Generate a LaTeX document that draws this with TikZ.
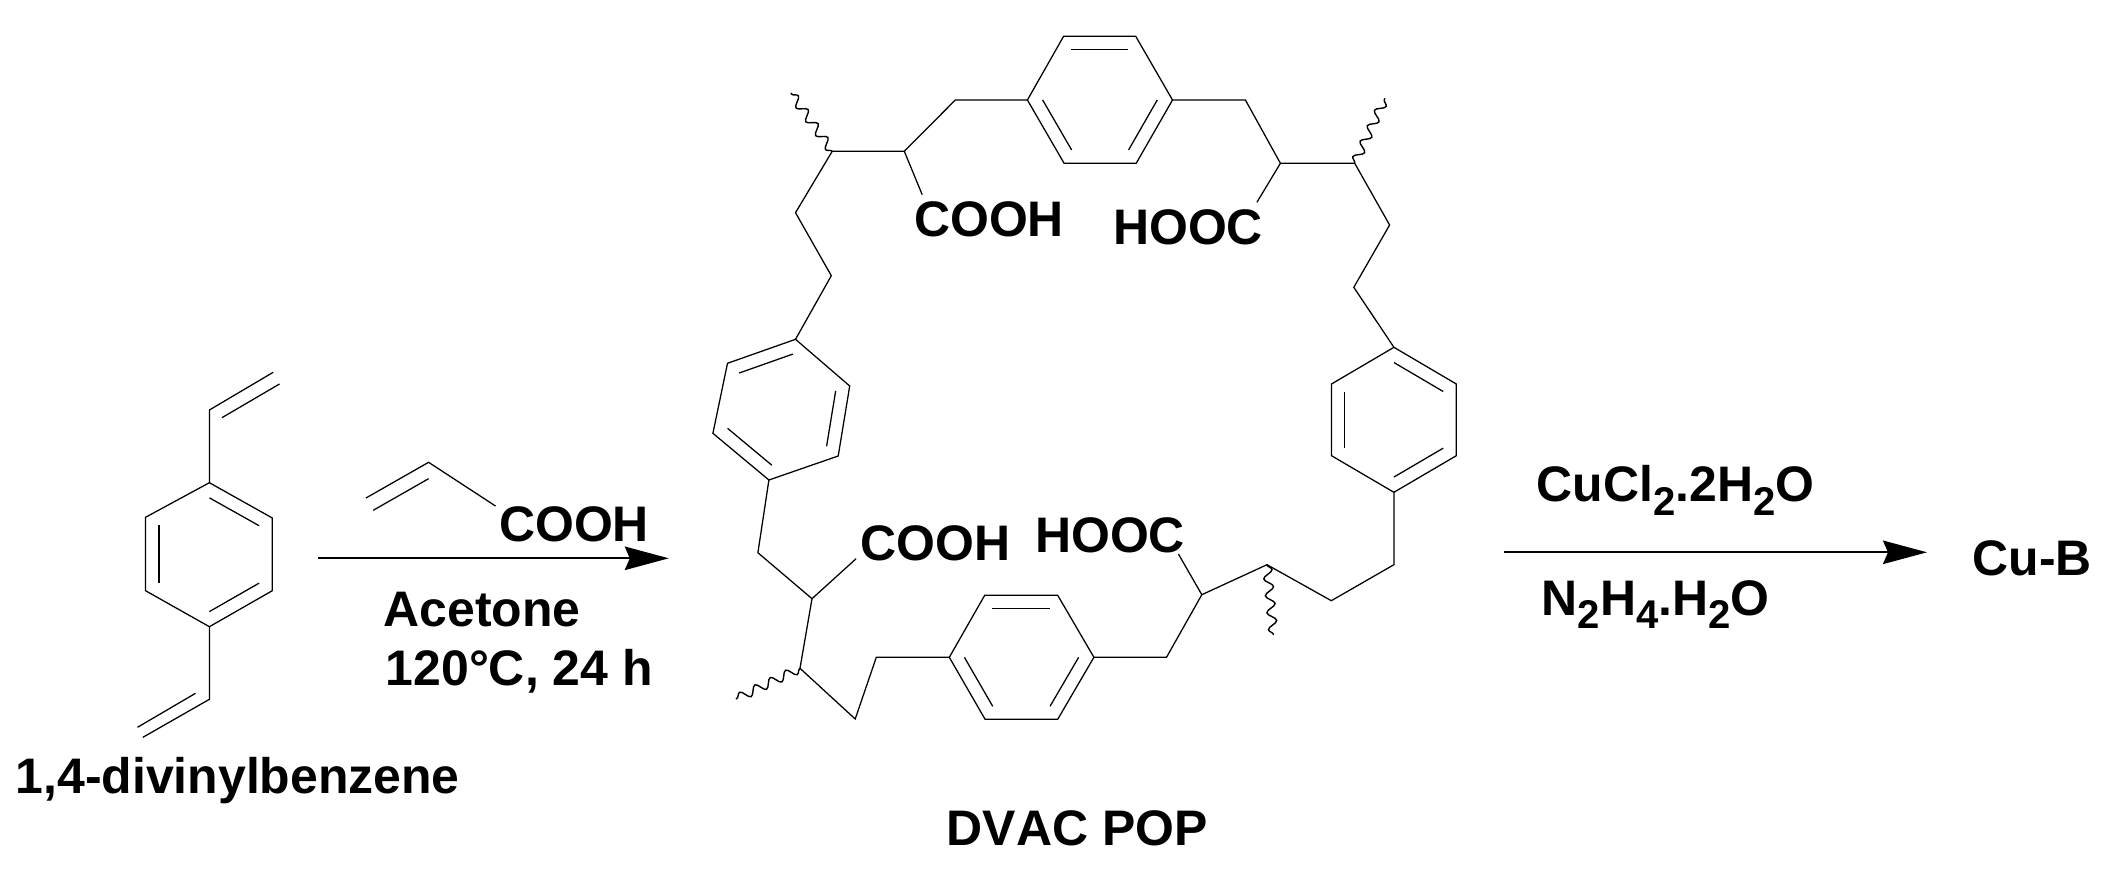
\documentclass[tikz,border=0pt]{standalone}
\usepackage{fontspec}
\setmainfont[Kerning=Off]{Liberation Sans}
\usepackage{tikz}
\usetikzlibrary{arrows.meta, calc, decorations.pathmorphing}

\tikzset{
	bond/.style={line width=.36pt, line join=miter},
	wavy/.style={line width=.4pt, decorate, decoration={snake, amplitude=.045cm, segment length=.17cm}},
	rxn/.style={line width=.5pt, -{Stealth[length=.44cm, width=.235cm, inset=.05cm]}},
	lbl/.style={anchor=base west, inner sep=0pt, font=\bfseries\fontsize{14.2pt}{17pt}\selectfont}
}
% lowered index of the formulas
\newcommand{\lowidx}[1]{\raisebox{-.27em}{\fontsize{11.4pt}{14pt}\selectfont #1}}
% ring with its three inner bonds
\newcommand{\benzring}[6]{
	\draw[bond] (#1) -- (#2) -- (#3) -- (#4) -- (#5) -- (#6) -- cycle;
	\coordinate (rc) at ($(#1)!.5!(#4)$);
	\draw[bond] ($(#1)!.21!(rc)$) -- ($(#2)!.21!(rc)$);
	\draw[bond] ($(#3)!.21!(rc)$) -- ($(#4)!.21!(rc)$);
	\draw[bond] ($(#5)!.21!(rc)$) -- ($(#6)!.21!(rc)$);
}

\begin{document}
\begin{tikzpicture}[x=.01cm, y=-.01cm]
	\useasboundingbox (0,0) rectangle (2109,870);

	% 1,4-divinylbenzene
	\coordinate (dvbtop) at (209.4,482.7);
	\coordinate (dvbbot) at (209.4,626.7);
	\benzring{dvbtop}{272.3,518}{272.3,590.7}{dvbbot}{145.5,590.7}{145.5,517.3}
	\draw[bond] (dvbtop) -- (209.4,410) -- (273.2,372.3);
	\draw[bond] (221.9,417.7) -- (279.5,384);
	\draw[bond] (dvbbot) -- (209.4,699.3) -- (142.9,737.3);
	\draw[bond] (195.5,693.3) -- (137.5,727.3);
	\node (dvbname) at (15,793) [lbl] {1,4-divinylbenzene};

	% acrylic acid over the first arrow
	\node (acooh) at (498.5,541) [lbl] {COOH};
	\draw[bond] (366,498) -- (428.6,462.3) -- (495.5,506);
	\draw[bond] (373.2,510.3) -- (428.6,478.7);
	\coordinate (arrAfrom) at (318,558.3);
	\coordinate (arrAto) at (668.8,558.3);
	\draw[rxn] (arrAfrom) -- (arrAto);
	\node (acetone) at (383,626.7) [lbl] {Acetone};
	\node (cond) at (385,685) [lbl] {120°C, 24 h};

	% upper part of the polymer
	\coordinate (ringTl) at (1027.4,100);
	\coordinate (ringTr) at (1172.5,100);
	\benzring{1063.6,36.3}{1135.7,36.3}{ringTr}{1136.2,163.3}{1064.1,163.3}{ringTl}
	\coordinate (chA) at (904.3,151.3);
	\coordinate (chB) at (832.2,151.3);
	\coordinate (chC) at (1280.4,163.3);
	\coordinate (chD) at (1354.7,163.3);
	\coordinate (ringLt) at (795.5,339.3);
	\coordinate (ringRt) at (1393.9,347.3);
	\draw[bond] (ringTl) -- (955.3,100) -- (chA) -- (chB) -- (795.5,212.7) -- (831.3,275.7) -- (ringLt);
	\draw[bond] (ringTr) -- (1245.4,100) -- (chC) -- (chD) -- (1389.6,225) -- (1353.8,287.3) -- (ringRt);
	\node (coohA) at (913.5,236.7) [lbl] {COOH};
	\node (hoocA) at (1112.5,244.3) [lbl] {HOOC};
	\draw[bond] (chA) -- (922.2,194.7);
	\draw[bond] (chC) -- (1256.9,202.3);
	\draw[wavy] (chB) -- (790.9,93);
	\draw[wavy] (chD) -- (1385,98.3);

	% side rings
	\coordinate (ringLb) at (768.9,480);
	\coordinate (ringRb) at (1393.9,492.3);
	\benzring{727.5,363.3}{ringLt}{849.7,386}{838.2,456}{ringLb}{712.9,433.3}
	\benzring{ringRt}{1456.3,384}{1456.3,455.7}{ringRb}{1331.5,455.7}{1331.5,384}

	% lower part of the polymer
	\coordinate (ringBl) at (949.3,657.3);
	\coordinate (ringBr) at (1093.9,657.3);
	\benzring{984.7,595.3}{1057.7,595.3}{ringBr}{1057.7,719.3}{985.1,719.3}{ringBl}
	\coordinate (chE) at (812,598.7);
	\coordinate (chF) at (800,668.3);
	\coordinate (chG) at (1201.8,594.7);
	\coordinate (chH) at (1267,564.7);
	\draw[bond] (ringLb) -- (757.9,552.7) -- (chE) -- (chF) -- (855.2,719) -- (876.3,657.3) -- (ringBl);
	\draw[bond] (ringBr) -- (1166.5,657.3) -- (chG) -- (chH) -- (1331.3,600.7) -- (1393.9,564.7) -- (ringRb);
	\node (coohB) at (860,560.7) [lbl] {COOH};
	\node (hoocB) at (1034.5,552.7) [lbl] {HOOC};
	\draw[bond] (chE) -- (856.1,558.7);
	\draw[bond] (chG) -- (1178.4,554);
	\draw[wavy] (chF) -- (735.8,699);
	\draw[wavy] (chH) -- (1273.5,635);
	\node (popname) at (946,845.7) [lbl] {DVAC POP};

	% second step
	\coordinate (arrBfrom) at (1504.3,552.3);
	\coordinate (arrBto) at (1927,552.3);
	\draw[rxn] (arrBfrom) -- (arrBto);
	\node (cucl) at (1536,501.7) [lbl] {CuCl\lowidx{2}.2H\lowidx{2}O};
	\node (hydr) at (1541,615) [lbl] {N\lowidx{2}H\lowidx{4}.H\lowidx{2}O};
	\node (cub) at (1972,575) [lbl] {Cu-B};
\end{tikzpicture}
\end{document}
